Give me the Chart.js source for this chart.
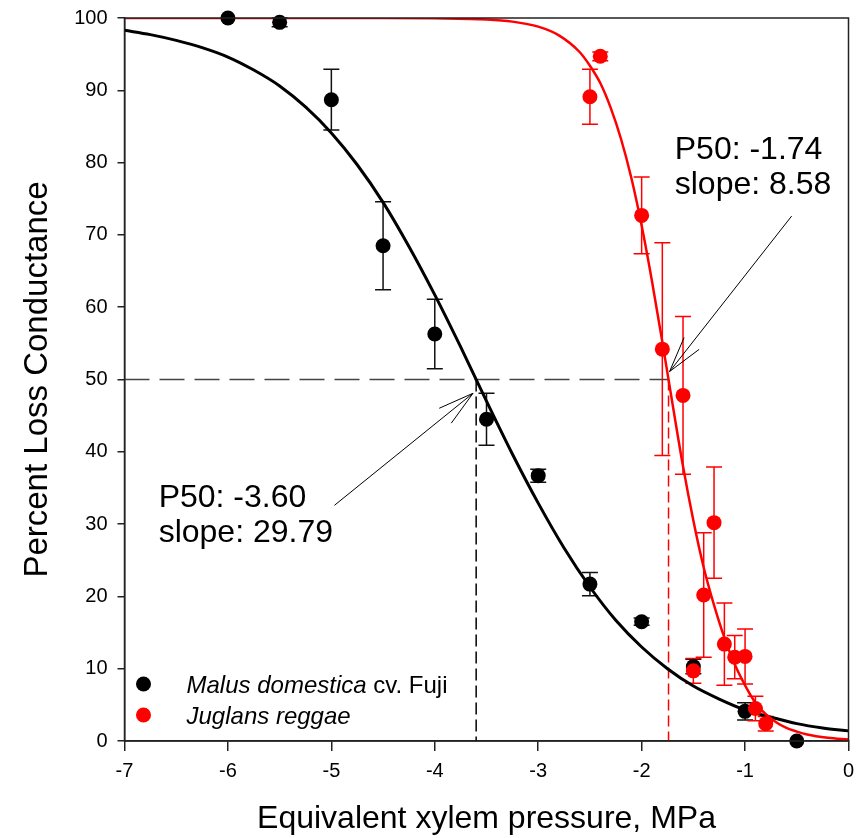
<!DOCTYPE html>
<html>
<head>
<meta charset="utf-8">
<script src="https://cdn.jsdelivr.net/npm/chart.js@4.4.1/dist/chart.umd.min.js"></script>
<style>
  html, body { margin: 0; padding: 0; background: #fff; }
</style>
</head>
<body>
<canvas id="plcChart" width="856" height="838"></canvas>
<script>
// Measured points (mean +/- error)
const malusX   = [-6, -5.5, -5, -4.5, -4, -3.5, -3, -2.5, -2, -1.5, -1, -0.5];
const malusY   = [100, 99.4, 88.7, 68.5, 56.3, 44.5, 36.7, 21.7, 16.5, 10.3, 4.1, 0];
const malusErr = [0, 0.6, 4.2, 6.1, 4.8, 3.6, 0.9, 1.6, 0.5, 1.0, 1.2, 0];

const juglansX   = [-2.5, -2.4, -2.0, -1.8, -1.6, -1.5, -1.4, -1.3, -1.2, -1.1, -1.0, -0.9, -0.8];
const juglansY   = [89.1, 94.7, 72.7, 54.2, 47.8, 9.7, 20.2, 30.2, 13.4, 11.6, 11.7, 4.5, 2.4];
const juglansErr = [3.8, 0.6, 5.3, 14.7, 10.9, 1.7, 8.6, 7.7, 5.7, 3.0, 3.8, 1.7, 1.0];

// Fitted curves
const malusCurveX = [-7, -6.75, -6.5, -6.25, -6, -5.75, -5.5, -5.25, -5, -4.75, -4.5, -4.25, -4, -3.75,
  -3.5, -3.25, -3, -2.75, -2.5, -2.25, -2, -1.75, -1.5, -1.25, -1, -0.75, -0.5, -0.25, 0];
const malusCurveY = [98.3, 97.7, 96.9, 95.9, 94.6, 92.8, 90.6, 87.7, 84.1, 79.7, 74.5, 68.4, 61.7, 54.5,
  47.0, 39.7, 32.9, 26.7, 21.3, 16.7, 13.0, 10.0, 7.6, 5.8, 4.3, 3.3, 2.4, 1.8, 1.4];

const juglansCurveX = [-7, -6, -5, -4.5, -4, -3.5, -3.25, -3, -2.8, -2.6, -2.5, -2.4, -2.3, -2.2, -2.1, -2,
  -1.9, -1.8, -1.7, -1.6, -1.5, -1.4, -1.3, -1.2, -1.1, -1, -0.9, -0.8, -0.7, -0.6, -0.5, -0.4, -0.2, 0];
const juglansCurveY = [100, 100, 100, 100, 99.96, 99.8, 99.5, 98.8, 97.6, 95.3, 93.4, 91.0, 87.6, 83.3, 77.9, 71.3,
  63.6, 55.2, 46.5, 38.0, 30.5, 24.0, 18.8, 14.3, 10.6, 7.7, 5.3, 3.7, 2.6, 1.8, 1.3, 0.9, 0.45, 0.2];

// P50 and slope for [Malus, Juglans]
const p50Values   = [-3.60, -1.74];
const slopeValues = [29.79, 8.58];
const plcHalf = 50;

const FONT = 'Arial, "Liberation Sans", sans-serif';
const toPoints = (xs, ys) => xs.map((x, i) => ({ x: x, y: ys[i] }));

// Error bars
const errorBars = {
  id: 'errorBars',
  beforeDatasetsDraw(chart) {
    const { ctx, scales: { x, y } } = chart;
    const sets = [
      { xs: malusX, ys: malusY, err: malusErr, color: '#111' },
      { xs: juglansX, ys: juglansY, err: juglansErr, color: '#ff0000' }
    ];
    ctx.save();
    ctx.lineWidth = 1.5;
    sets.forEach(s => {
      ctx.strokeStyle = s.color;
      s.xs.forEach((v, i) => {
        if (!s.err[i]) return;
        const px = x.getPixelForValue(v);
        const top = y.getPixelForValue(s.ys[i] + s.err[i]);
        const bot = y.getPixelForValue(s.ys[i] - s.err[i]);
        ctx.beginPath();
        ctx.moveTo(px, top); ctx.lineTo(px, bot);
        ctx.moveTo(px - 8, top); ctx.lineTo(px + 8, top);
        ctx.moveTo(px - 8, bot); ctx.lineTo(px + 8, bot);
        ctx.stroke();
      });
    });
    ctx.restore();
  }
};

function drawArrow(ctx, x0, y0, x1, y1) {
  ctx.beginPath();
  ctx.moveTo(x0, y0); ctx.lineTo(x1, y1);
  ctx.stroke();
  const ang = Math.atan2(y0 - y1, x0 - x1);
  const len = 37, spread = Math.PI / 12;
  ctx.beginPath();
  ctx.moveTo(x1 + len * Math.cos(ang - spread), y1 + len * Math.sin(ang - spread));
  ctx.lineTo(x1, y1);
  ctx.lineTo(x1 + len * Math.cos(ang + spread), y1 + len * Math.sin(ang + spread));
  ctx.stroke();
}

// P50 notes: text anchor and arrow in data units
const notes = [
  { tx: -6.67, ty: 32.4, from: [-4.97, 32.6], to: [-3.63, 48.1] },
  { tx: -1.68, ty: 80.45, from: [-0.55, 72.6], to: [-1.73, 51.1] }
];

const extras = {
  id: 'extras',
  afterDraw(chart) {
    const { ctx, chartArea: a, scales: { x, y } } = chart;
    ctx.save();
    // frame
    ctx.strokeStyle = '#222';
    ctx.lineWidth = 1.5;
    ctx.strokeRect(a.left, a.top, a.right - a.left, a.bottom - a.top);

    // notes
    ctx.fillStyle = '#000';
    ctx.strokeStyle = '#000';
    ctx.lineWidth = 1;
    ctx.font = '32px ' + FONT;
    ctx.textBaseline = 'alphabetic';
    notes.forEach((n, i) => {
      const tx = x.getPixelForValue(n.tx), ty = y.getPixelForValue(n.ty);
      ctx.fillText('P50: ' + p50Values[i].toFixed(2), tx, ty);
      ctx.fillText('slope: ' + slopeValues[i].toFixed(2), tx, ty + 35);
      drawArrow(ctx, x.getPixelForValue(n.from[0]), y.getPixelForValue(n.from[1]),
        x.getPixelForValue(n.to[0]), y.getPixelForValue(n.to[1]));
    });

    // legend
    const rows = [
      { color: '#000', italic: 'Malus domestica', plain: ' cv. Fuji' },
      { color: '#ff0000', italic: 'Juglans reggae', plain: '' }
    ];
    rows.forEach((r, i) => {
      const cy = a.bottom - 57 + i * 31;
      ctx.fillStyle = r.color;
      ctx.beginPath();
      ctx.arc(a.left + 19, cy, 7.5, 0, Math.PI * 2);
      ctx.fill();
      ctx.fillStyle = '#000';
      ctx.font = 'italic 24px ' + FONT;
      const tx = a.left + 62;
      ctx.fillText(r.italic, tx, cy + 8.5);
      const w = ctx.measureText(r.italic).width;
      ctx.font = '24px ' + FONT;
      ctx.fillText(r.plain, tx + w, cy + 8.5);
    });
    ctx.restore();
  }
};

const ctx = document.getElementById('plcChart').getContext('2d');
new Chart(ctx, {
  type: 'scatter',
  data: {
    datasets: [
      {
        label: 'Juglans reggae',
        data: toPoints(juglansX, juglansY),
        backgroundColor: '#ff0000',
        pointRadius: 7.5,
        pointBorderWidth: 0,
        clip: false,
        order: 0
      },
      {
        label: 'Malus domestica cv. Fuji',
        data: toPoints(malusX, malusY),
        backgroundColor: '#000',
        pointRadius: 7.5,
        pointBorderWidth: 0,
        clip: false,
        order: 1
      },
      {
        label: 'Juglans fit',
        data: toPoints(juglansCurveX, juglansCurveY),
        showLine: true,
        borderColor: '#ff0000',
        borderWidth: 2.5,
        pointRadius: 0,
        cubicInterpolationMode: 'monotone',
        order: 2
      },
      {
        label: 'Malus fit',
        data: toPoints(malusCurveX, malusCurveY),
        showLine: true,
        borderColor: '#000',
        borderWidth: 3,
        pointRadius: 0,
        cubicInterpolationMode: 'monotone',
        order: 3
      },
      {
        label: 'P50 level',
        data: [{ x: -7, y: plcHalf }, { x: p50Values[1], y: plcHalf }],
        showLine: true,
        borderColor: '#444',
        borderWidth: 1.5,
        borderDash: [25, 10],
        pointRadius: 0,
        order: 4
      },
      {
        label: 'Malus P50',
        data: [{ x: p50Values[0], y: plcHalf }, { x: p50Values[0], y: 0 }],
        showLine: true,
        borderColor: '#000',
        borderWidth: 1.5,
        borderDash: [12, 5],
        pointRadius: 0,
        order: 5
      },
      {
        label: 'Juglans P50',
        data: [{ x: p50Values[1], y: plcHalf }, { x: p50Values[1], y: 0 }],
        showLine: true,
        borderColor: '#ff0000',
        borderWidth: 1.5,
        borderDash: [11, 5],
        pointRadius: 0,
        order: 6
      }
    ]
  },
  options: {
    responsive: false,
    animation: false,
    layout: { padding: { top: 18, right: 7, left: 0, bottom: 0 } },
    plugins: { legend: { display: false }, tooltip: { enabled: false } },
    scales: {
      x: {
        type: 'linear',
        min: -7, max: 0,
        afterFit: s => {
          s.height = 97;
          s.paddingLeft = 0; s.paddingRight = 0;
        },
        ticks: { stepSize: 1, color: '#000', padding: 8, font: { family: FONT, size: 20 } },
        grid: { drawOnChartArea: false, tickLength: 10, color: '#222', lineWidth: 1.5 },
        border: { color: '#222', width: 1.5 },
        title: {
          display: true,
          text: 'Equivalent xylem pressure, MPa',
          color: '#000',
          font: { family: FONT, size: 32 },
          padding: { top: 0, bottom: 0 }
        }
      },
      y: {
        min: 0, max: 100,
        afterFit: s => {
          s.width = 124.5;
          s.paddingTop = 0; s.paddingBottom = 0;
        },
        ticks: { stepSize: 10, color: '#000', padding: 10, font: { family: FONT, size: 20 } },
        grid: { drawOnChartArea: false, tickLength: 7, color: '#222', lineWidth: 1.5 },
        border: { color: '#222', width: 1.5 },
        title: {
          display: true,
          text: 'Percent Loss Conductance',
          color: '#000',
          font: { family: FONT, size: 33 },
          padding: { top: 18, bottom: 0 }
        }
      }
    }
  },
  plugins: [errorBars, extras]
});
</script>
</body>
</html>
